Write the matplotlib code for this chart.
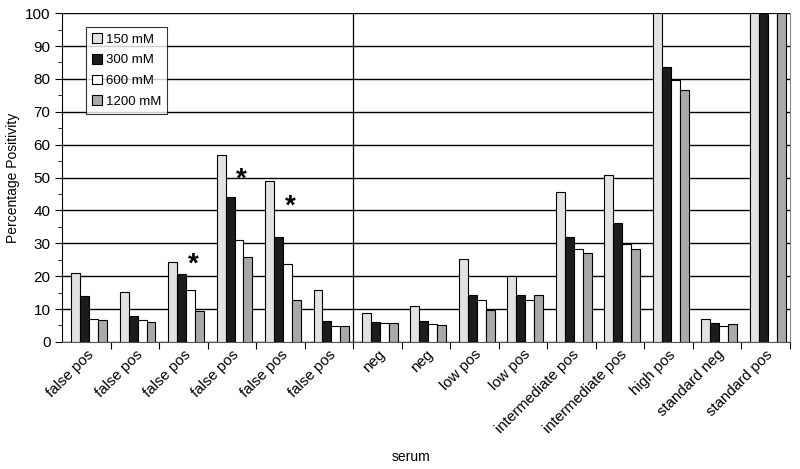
import numpy as np
import matplotlib.pyplot as plt
from matplotlib.ticker import MultipleLocator
from matplotlib.transforms import ScaledTranslation

plt.rcParams['font.family'] = ['Liberation Sans', 'DejaVu Sans']

# serum groups along the x axis
serum = ['false pos', 'false pos', 'false pos', 'false pos', 'false pos', 'false pos',
         'neg', 'neg', 'low pos', 'low pos', 'intermediate pos', 'intermediate pos',
         'high pos', 'standard neg', 'standard pos']

# percentage positivity per salt concentration
mm150 = [21.1, 15.3, 24.2, 57.0, 48.9, 15.7, 8.7, 11.0, 25.3, 19.9, 45.7, 50.9, 100, 6.9, 100]
mm300 = [13.9, 8.0, 20.6, 44.2, 31.9, 6.5, 6.2, 6.5, 14.2, 14.4, 32.0, 36.3, 83.5, 5.7, 100]
mm600 = [7.1, 6.6, 15.9, 30.9, 23.7, 4.9, 5.7, 5.3, 12.6, 12.8, 28.2, 29.7, 79.8, 4.9, 100]
mm1200 = [6.6, 6.1, 9.5, 25.8, 12.7, 4.7, 5.9, 5.0, 9.7, 14.4, 26.9, 28.4, 76.6, 5.3, 100]

series = [mm150, mm300, mm600, mm1200]
labels = ['150 mM', '300 mM', '600 mM', '1200 mM']
colors = ['#e2e2e2', '#1c1c1c', '#ffffff', '#a9a9a9']

# asterisks marking significant differences (group index, height)
stars_idx = [2, 3, 4]
stars_y = [23.6, 49.3, 41.0]

fig = plt.figure(figsize=(8, 4.69), dpi=100)
ax = fig.add_axes([0.078, 0.271, 0.909, 0.701])

x = np.arange(len(serum))
w = 0.185
for k, (vals, lab, col) in enumerate(zip(series, labels, colors)):
    ax.bar(x + (k - 1.5) * w + 0.05, vals, width=w, color=col, edgecolor='black',
           linewidth=0.8, label=lab, zorder=3)

for i, yv in zip(stars_idx, stars_y):
    ax.text(i + 0.2, yv, '*', ha='center', va='center', fontsize=20,
            fontweight='bold', zorder=4)

ax.set_xlim(-0.5, len(serum) - 0.5)
ax.set_ylim(0, 100)
ax.yaxis.set_major_locator(MultipleLocator(10))
ax.yaxis.set_minor_locator(MultipleLocator(5))
ax.grid(axis='y', color='black', linewidth=1.0, zorder=0)
ax.axvline(5.5, color='black', linewidth=0.9, zorder=2)

ax.set_xticks(x + 0.5, minor=False)
ax.set_xticklabels([])
ax.set_xticks(x, minor=True)
ax.set_xticklabels(serum, minor=True, rotation=45, ha='right',
                   rotation_mode='anchor', fontsize=10.8)
shift = ScaledTranslation(-0.22, -0.09, fig.dpi_scale_trans)
for lbl in ax.get_xticklabels(minor=True):
    lbl.set_transform(lbl.get_transform() + shift)
ax.tick_params(axis='x', which='major', length=5, direction='out')
ax.tick_params(axis='x', which='minor', length=0, pad=4)
ax.tick_params(axis='y', which='major', length=5, labelsize=11)
ax.tick_params(axis='y', which='minor', length=3)

ax.spines['top'].set_visible(False)
ax.spines['right'].set_color('#888888')
ax.spines['bottom'].set_color('#555555')

ax.set_ylabel('Percentage Positivity', fontsize=10)
ax.set_xlabel('serum', fontsize=10)
ax.xaxis.set_label_coords(0.48, -0.35)
ax.xaxis.label.set_va('center')

leg = ax.legend(loc='upper left', bbox_to_anchor=(0.033, 0.957), fontsize=9.5,
                frameon=True, fancybox=False, edgecolor='black', handlelength=0.75,
                handleheight=0.75, handletextpad=0.25, borderpad=0.45, labelspacing=0.63,
                borderaxespad=0)
leg.get_frame().set_linewidth(0.8)
leg.set_zorder(5)

fig.savefig('out.png', dpi=100)
